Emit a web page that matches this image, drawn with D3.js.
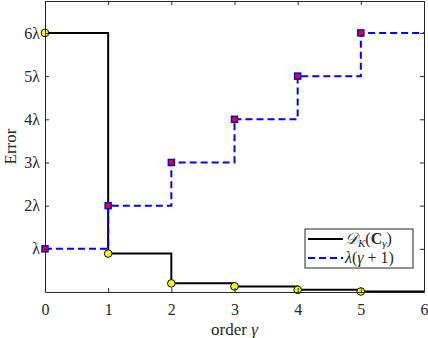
<!DOCTYPE html>
<html>
<head>
<meta charset="utf-8">
<script src="https://cdn.jsdelivr.net/npm/d3@7"></script>
<style>
  body { margin: 0; background: #fff; }
  text { font-family: "Liberation Serif", "DejaVu Serif", serif; fill: #262626; }
</style>
</head>
<body>
<div id="chart"></div>
<script>
// data
var gammas = [0, 1, 2, 3, 4, 5, 6];
var errorVals = [6, 0.89, 0.2, 0.13, 0.05, 0.012, 0.012];
var boundVals = [1, 2, 3, 4, 5, 6, 6];
var xTicks = [0, 1, 2, 3, 4, 5, 6];
var yTicks = [1, 2, 3, 4, 5, 6];
var yTickLabels = ["λ", "2λ", "3λ", "4λ", "5λ", "6λ"];

var W = 428, H = 338;
var margin = {top: 1, right: 4, bottom: 46, left: 45};
var width = W - margin.left - margin.right,
    height = H - margin.top - margin.bottom;

var svg = d3.select("#chart").append("svg")
    .attr("width", W).attr("height", H);
var g = svg.append("g")
    .attr("transform", "translate(" + margin.left + "," + margin.top + ")");

var x = d3.scaleLinear().domain([0, 6]).range([0, width]);
var y = d3.scaleLinear().domain([0, 6.74]).range([height, 0]);

var errPts = gammas.map(function(d, i) { return {g: d, v: errorVals[i]}; });
var bndPts = gammas.map(function(d, i) { return {g: d, v: boundVals[i]}; });

var step = d3.line()
    .x(function(d) { return x(d.g); })
    .y(function(d) { return y(d.v); })
    .curve(d3.curveStepAfter);

// black stair line + yellow markers
g.append("path").datum(errPts)
    .attr("d", step)
    .attr("fill", "none").attr("stroke", "#000").attr("stroke-width", 2);
g.selectAll(".circ").data(errPts.slice(0, 6)).enter().append("circle")
    .attr("cx", function(d) { return x(d.g); })
    .attr("cy", function(d) { return y(d.v); })
    .attr("r", 3.8)
    .attr("fill", "#ffff00").attr("stroke", "#000").attr("stroke-width", 1);

// blue dashed bound + squares
g.append("path").datum(bndPts)
    .attr("d", step)
    .attr("fill", "none").attr("stroke", "#0000ff").attr("stroke-width", 2)
    .attr("stroke-dasharray", "7,4");
g.selectAll(".sq").data(bndPts.slice(0, 6)).enter().append("rect")
    .attr("x", function(d) { return x(d.g) - 3; })
    .attr("y", function(d) { return y(d.v) - 3; })
    .attr("width", 6).attr("height", 6)
    .attr("fill", "#ff0000").attr("stroke", "#0000ff").attr("stroke-width", 1.5);

// axes (MATLAB style: ticks inward, boxed)
var axCol = "#262626";
var xAxis = g.append("g")
    .attr("transform", "translate(0," + height + ")")
    .call(d3.axisBottom(x).tickValues(xTicks).tickFormat(d3.format("d"))
        .tickSizeInner(-4).tickSizeOuter(0).tickPadding(12));
var yAxis = g.append("g")
    .call(d3.axisLeft(y).tickValues(yTicks)
        .tickFormat(function(d, i) { return yTickLabels[i]; })
        .tickSizeInner(-4).tickSizeOuter(0).tickPadding(5));
var xTop = g.append("g")
    .call(d3.axisTop(x).tickValues(xTicks).tickFormat("")
        .tickSizeInner(-4).tickSizeOuter(0));
var yRight = g.append("g")
    .attr("transform", "translate(" + width + ",0)")
    .call(d3.axisRight(y).tickValues(yTicks).tickFormat("")
        .tickSizeInner(-4).tickSizeOuter(0));

[xAxis, yAxis, xTop, yRight].forEach(function(a) {
    a.select(".domain").attr("stroke", axCol).attr("stroke-width", 1);
    a.selectAll(".tick line").attr("stroke", axCol);
    a.selectAll(".tick text").style("font-family", '"Liberation Serif", serif')
        .style("font-size", "16px").attr("fill", axCol);
});

// axis titles
g.append("text")
    .attr("x", width / 2).attr("y", height + 43)
    .attr("text-anchor", "middle").style("font-size", "17px")
    .html('order <tspan font-style="italic">γ</tspan>');
g.append("text")
    .attr("transform", "translate(" + (-29) + "," + (height / 2) + ") rotate(-90)")
    .attr("text-anchor", "middle").style("font-size", "17px")
    .text("Error");

// legend
var leg = svg.append("g").attr("transform", "translate(305,229)");
leg.append("rect").attr("width", 108).attr("height", 39)
    .attr("fill", "#fff").attr("stroke", axCol).attr("stroke-width", 1);
leg.append("line").attr("x1", 3).attr("x2", 38).attr("y1", 10).attr("y2", 10)
    .attr("stroke", "#000").attr("stroke-width", 2);
leg.append("line").attr("x1", 3).attr("x2", 38).attr("y1", 29).attr("y2", 29)
    .attr("stroke", "#0000ff").attr("stroke-width", 2).attr("stroke-dasharray", "7,4");
leg.append("text").attr("x", 40).attr("y", 15).style("font-size", "16px")
    .html('<tspan font-style="italic">𝒟</tspan><tspan font-style="italic" font-size="11px" dy="3">K</tspan><tspan dy="-3">(</tspan><tspan font-weight="bold">C</tspan><tspan font-style="italic" font-size="11px" dy="3">γ</tspan><tspan dy="-3">)</tspan>');
leg.append("text").attr("x", 40).attr("y", 34).style("font-size", "16px")
    .html('<tspan font-style="italic">λ</tspan>(<tspan font-style="italic">γ</tspan> + 1)');
</script>
</body>
</html>
